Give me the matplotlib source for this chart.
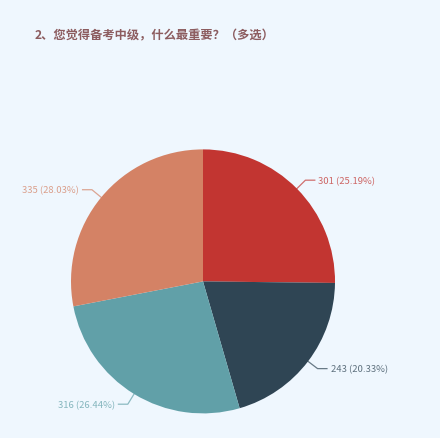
import matplotlib
matplotlib.use("Agg")
import matplotlib.pyplot as plt
import numpy as np

title = "2、您觉得备考中级，什么最重要？（多选）"
values = [301, 243, 316, 335]
percents = ["25.19%", "20.33%", "26.44%", "28.03%"]
colors = ["#C23531", "#2F4554", "#61A0A8", "#D48265"]

W, H = 440, 439
bg = "#EFF7FE"
fig = plt.figure(figsize=(W / 100, H / 100), dpi=100, facecolor=bg)
ax = fig.add_axes([0, 0, 1, 1])
ax.set_facecolor(bg)

cx, cy, r = 203, H - 282.4, 132
wedges, _ = ax.pie(values, colors=colors, startangle=90, counterclock=False,
                   center=(cx, cy), radius=r, frame=True,
                   wedgeprops=dict(linewidth=0))
ax.set_xlim(0, W)
ax.set_ylim(0, H)
ax.set_aspect("equal")
ax.axis("off")

fam = ["Noto Sans CJK SC", "DejaVu Sans"]
total = sum(values)
cum = 0
for v, p, c in zip(values, percents, colors):
    mid = (cum + v / 2) / total
    cum += v
    ang = np.deg2rad(90 - 360 * mid)
    x0, y0 = cx + (r - 2) * np.cos(ang), cy + (r - 2) * np.sin(ang)
    x1, y1 = cx + (r + 12) * np.cos(ang), cy + (r + 12) * np.sin(ang)
    side = 1 if np.cos(ang) >= 0 else -1
    x2 = x1 + side * 10
    ax.plot([x0, x1, x2], [y0, y1, y1], color=c, alpha=0.7, lw=0.9,
            solid_capstyle="butt")
    ax.text(x2 + side * 3, y1, f"{v} ({p})", color=c, alpha=0.75,
            fontsize=6.8, family=fam, va="center",
            ha="left" if side > 0 else "right")

fig.text(35 / W, 1 - 36 / H, title, color="#8C5C5F", fontsize=8.8,
         fontweight="bold", family=fam, va="center", ha="left")

fig.savefig("out.png", dpi=100, facecolor=bg)
